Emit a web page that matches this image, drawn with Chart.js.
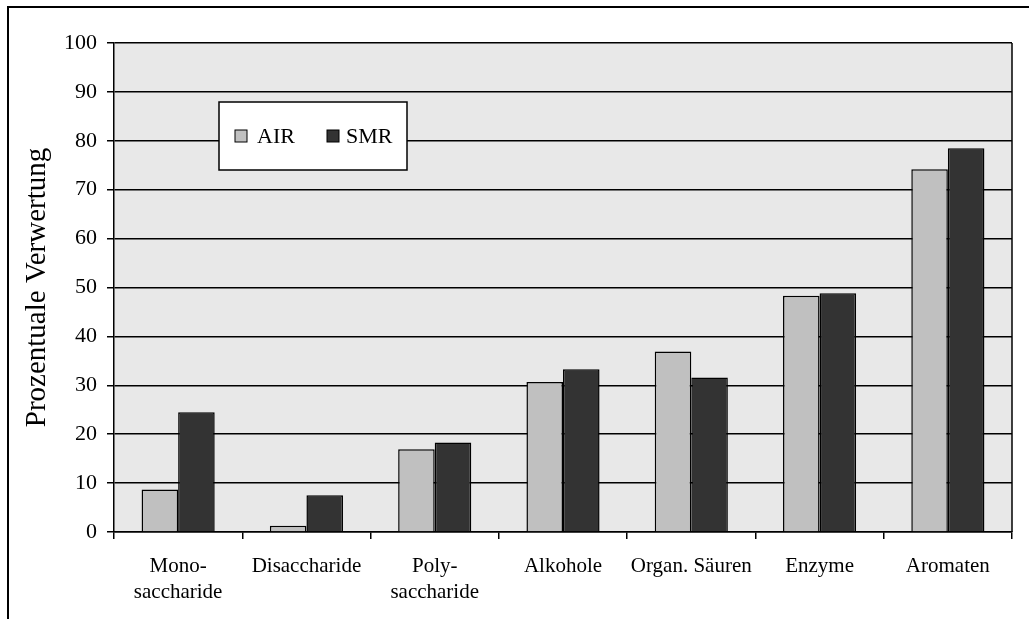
<!DOCTYPE html>
<html>
<head>
<meta charset="utf-8">
<script src="https://cdn.jsdelivr.net/npm/chart.js@4"></script>
<style>
  html, body { margin: 0; padding: 0; background: #fff; }
  #wrap { width: 1029px; height: 619px; position: relative; }
</style>
</head>
<body>
<div id="wrap"><canvas id="grafico" width="1029" height="619"></canvas></div>
<script>
const kategorien = [["Mono-", "saccharide"], "Disaccharide", ["Poly-", "saccharide"], "Alkohole", "Organ. Säuren", "Enzyme", "Aromaten"];
const werteAIR = [8.7, 1.3, 16.9, 30.7, 36.9, 48.3, 74.2];
const werteSMR = [24.5, 7.5, 18.3, 33.3, 31.6, 48.8, 78.5];
const yTicks = [0, 10, 20, 30, 40, 50, 60, 70, 80, 90, 100];

const schrift = "'Liberation Serif', 'Times New Roman', serif";

// Hintergrund, Rahmen und Legende selbst zeichnen
const rahmenPlugin = {
    id: 'rahmen',
    beforeDraw(chart) {
        const ctx = chart.ctx;
        const a = chart.chartArea;
        ctx.save();
        ctx.fillStyle = '#ffffff';
        ctx.fillRect(0, 0, chart.width, chart.height);
        ctx.fillStyle = '#e8e8e8';
        ctx.fillRect(a.left, a.top, a.right - a.left, a.bottom - a.top);
        // aeusserer Rahmen
        ctx.strokeStyle = '#000';
        ctx.lineWidth = 2;
        ctx.beginPath();
        ctx.moveTo(8, chart.height + 2);
        ctx.lineTo(8, 7);
        ctx.lineTo(chart.width + 2, 7);
        ctx.stroke();
        ctx.restore();
    },
    afterDraw(chart) {
        const ctx = chart.ctx;
        const a = chart.chartArea;
        ctx.save();
        // rechte Kante der Zeichenflaeche
        ctx.strokeStyle = '#000';
        ctx.lineWidth = 1.5;
        ctx.beginPath();
        ctx.moveTo(a.right, a.top);
        ctx.lineTo(a.right, a.bottom);
        ctx.stroke();

        // Legende
        const lx = a.left + 105, ly = a.top + 59, lw = 188, lh = 68;
        ctx.fillStyle = '#fff';
        ctx.fillRect(lx, ly, lw, lh);
        ctx.lineWidth = 1.5;
        ctx.strokeRect(lx, ly, lw, lh);
        ctx.font = '22px ' + schrift;
        ctx.textBaseline = 'middle';
        const xs = [lx + 16, lx + 108];
        chart.data.datasets.forEach((ds, i) => {
            ctx.fillStyle = ds.backgroundColor;
            ctx.fillRect(xs[i], ly + 28, 12, 12);
            ctx.lineWidth = 1;
            ctx.strokeStyle = '#000';
            ctx.strokeRect(xs[i], ly + 28, 12, 12);
            ctx.fillStyle = '#000';
            ctx.fillText(ds.label, xs[i] + (i === 0 ? 22 : 19), ly + 35);
        });
        ctx.restore();
    }
};

new Chart(document.getElementById("grafico"), {
    type: 'bar',
    data: {
        labels: kategorien,
        datasets: [
            {
                label: "AIR",
                backgroundColor: "#c0c0c0",
                borderColor: "#000",
                borderWidth: 1.5,
                data: werteAIR
            }, {
                label: "SMR",
                backgroundColor: "#333333",
                borderColor: "#000",
                borderWidth: 1.5,
                data: werteSMR
            }
        ]
    },
    options: {
        responsive: false,
        animation: false,
        events: [],
        layout: { padding: { left: 0, top: 43, right: 17, bottom: 0 } },
        datasets: { bar: { categoryPercentage: 0.57, barPercentage: 1.0 } },
        plugins: {
            legend: { display: false },
            tooltip: { enabled: false },
            title: { display: false }
        },
        scales: {
            x: {
                afterFit: (s) => { s.height = 87; },
                grid: {
                    offset: true,
                    drawOnChartArea: false,
                    drawTicks: true,
                    tickLength: 7,
                    color: '#000',
                    lineWidth: 1.5
                },
                border: { color: '#000', width: 1.5 },
                ticks: {
                    color: '#000',
                    maxRotation: 0,
                    autoSkip: false,
                    padding: 14,
                    font: { family: schrift, size: 21, lineHeight: 1.24 }
                }
            },
            y: {
                min: 0,
                max: 100,
                afterFit: (s) => { s.width = 114; },
                afterBuildTicks: (s) => { s.ticks = yTicks.map(v => ({ value: v })); },
                grid: {
                    color: '#000',
                    lineWidth: 1.5,
                    tickLength: 7
                },
                border: { color: '#000', width: 1.5 },
                ticks: {
                    color: '#000',
                    padding: 10,
                    font: { family: schrift, size: 22 }
                },
                title: {
                    display: true,
                    text: 'Prozentuale Verwertung',
                    color: '#000',
                    padding: { top: 20, bottom: 0 },
                    font: { family: schrift, size: 29, weight: 'normal' }
                }
            }
        }
    },
    plugins: [rahmenPlugin]
});
</script>
</body>
</html>
